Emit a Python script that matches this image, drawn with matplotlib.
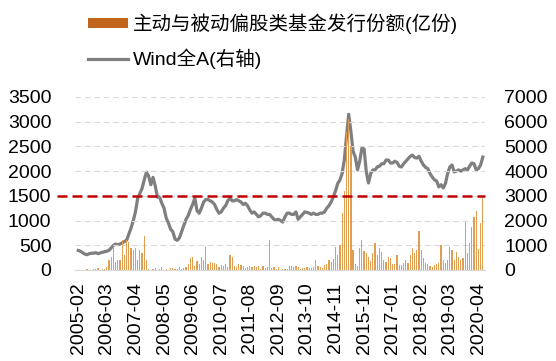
import numpy as np
import pandas as pd
import matplotlib
matplotlib.use('Agg')
import matplotlib.pyplot as plt
from matplotlib.patches import Patch
from matplotlib.lines import Line2D

plt.rcParams['font.family'] = ['Liberation Sans', 'Noto Sans CJK SC', 'DejaVu Sans']

# 月份: 2005-02 ~ 2020-06
months = pd.period_range('2005-02', '2020-06', freq='M').strftime('%Y-%m').tolist()

# 主动与被动偏股类基金发行份额(亿份), 按年份
b2005 = [0, 10, 0, 5, 20, 10, 0, 30, 15, 40, 10]
b2006 = [20, 30, 60, 200, 270, 440, 170, 200, 200, 600, 300, 610]
b2007 = [570, 440, 400, 440, 200, 400, 340, 690, 200, 30, 10, 20]
b2008 = [40, 10, 20, 60, 5, 30, 10, 40, 50, 20, 30, 60]
b2009 = [20, 40, 60, 120, 240, 270, 80, 180, 120, 270, 200, 470]
b2010 = [120, 170, 140, 150, 120, 60, 100, 80, 120, 60, 300, 270]
b2011 = [80, 60, 120, 100, 90, 40, 70, 80, 60, 90, 70, 90]
b2012 = [20, 80, 40, 70, 610, 40, 60, 30, 60, 10, 30, 20]
b2013 = [30, 80, 90, 70, 80, 60, 20, 50, 40, 60, 50, 40]
b2014 = [60, 200, 80, 60, 40, 100, 130, 200, 160, 230, 470, 300]
b2015 = [500, 1150, 1600, 2800, 3050, 2500, 400, 130, 90, 440, 610, 380]
b2016 = [340, 270, 180, 340, 540, 300, 440, 370, 200, 160, 270, 240]
b2017 = [130, 120, 300, 100, 110, 140, 200, 150, 300, 440, 340, 400]
b2018 = [780, 400, 240, 150, 120, 80, 60, 100, 120, 150, 500, 200]
b2019 = [150, 200, 470, 400, 200, 370, 270, 200, 250, 980, 340, 550]
b2020 = [870, 1070, 1200, 420, 950, 1450]

# Wind全A (右轴)
w2005 = [790, 760, 700, 640, 620, 660, 680, 680, 700, 660, 690]
w2006 = [720, 740, 760, 800, 900, 1000, 1050, 1020, 1050, 1100, 1150, 1210]
w2007 = [1450, 1700, 2000, 2350, 2900, 3100, 3300, 3650, 3960, 3800, 3450, 3750]
w2008 = [3400, 2950, 2950, 2700, 2500, 2100, 1900, 1650, 1550, 1250, 1200, 1300]
w2009 = [1550, 1800, 2050, 2200, 2450, 2650, 2910, 2400, 2300, 2500, 2750, 2850]
w2010 = [2850, 2800, 2750, 2650, 2450, 2300, 2350, 2500, 2600, 2800, 2910, 2800]
w2011 = [2800, 2850, 2800, 2750, 2650, 2700, 2600, 2430, 2300, 2350, 2250, 2150]
w2012 = [2200, 2300, 2300, 2250, 2250, 2150, 2050, 2020, 2050, 2000, 1940, 2150]
w2013 = [2300, 2300, 2250, 2250, 2350, 2050, 2150, 2250, 2350, 2330, 2300, 2250]
w2014 = [2300, 2250, 2250, 2300, 2300, 2350, 2500, 2600, 2750, 2960, 3200, 3500]
w2015 = [3640, 3900, 4450, 5400, 6300, 5600, 4800, 4570, 4050, 4400, 4930, 4900]
w2016 = [3970, 3520, 3900, 4050, 4050, 4170, 4200, 4300, 4300, 4450, 4450, 4330]
w2017 = [4330, 4400, 4350, 4200, 4170, 4300, 4400, 4500, 4600, 4650, 4550, 4530]
w2018 = [4600, 4400, 4250, 4150, 4100, 3900, 3760, 3650, 3600, 3360, 3450, 3320]
w2019 = [3500, 3900, 4170, 4250, 3970, 4000, 4050, 4000, 4050, 4100, 4050, 4200]
w2020 = [4330, 4300, 4050, 4100, 4250, 4570]

tick_labels = ['2005-02', '2006-03', '2007-04', '2008-05', '2009-06', '2010-07',
               '2011-08', '2012-09', '2013-10', '2014-11', '2015-12', '2017-01',
               '2018-02', '2019-03', '2020-04']

issue = (b2005 + b2006 + b2007 + b2008 + b2009 + b2010 + b2011 + b2012
         + b2013 + b2014 + b2015 + b2016 + b2017 + b2018 + b2019 + b2020)
wind = (w2005 + w2006 + w2007 + w2008 + w2009 + w2010 + w2011 + w2012
        + w2013 + w2014 + w2015 + w2016 + w2017 + w2018 + w2019 + w2020)

x = np.arange(len(months))
tick_pos = [months.index(t) for t in tick_labels]

fig = plt.figure(figsize=(5.56, 3.61), dpi=100)
ax = fig.add_axes([75 / 556, 1 - 270 / 361, 410 / 556, 173 / 361])
ax2 = ax.twinx()

# 网格线
for v in range(500, 3501, 500):
    ax.axhline(v, color='#D9D9D9', lw=0.8, ls=(0, (5, 3.5)), zorder=0)

ax.bar(x, issue, width=0.55, color='#E09E52', linewidth=0, zorder=2)
ax2.plot(x, wind, color='#7F7F7F', lw=2.3, zorder=3)
ax.axhline(1500, xmin=-0.045, xmax=1.0, color='#C00000', lw=1.8,
           ls=(0, (4, 2)), clip_on=False, zorder=4)

ax.set_ylim(0, 3500)
ax2.set_ylim(0, 7000)
ax.set_xlim(-1.5, 185)
ax.set_yticks(range(0, 3501, 500))
ax2.set_yticks(range(0, 7001, 1000))
ax.set_xticks(tick_pos)
ax.set_xticklabels(tick_labels, rotation=90)

ax.set_zorder(ax2.get_zorder() + 1)
ax.patch.set_visible(False)

for a in (ax, ax2):
    for s in ['top', 'left', 'right']:
        a.spines[s].set_visible(False)
    a.spines['bottom'].set_color('#D9D9D9')
ax.tick_params(axis='both', length=0, labelsize=14)
ax.tick_params(axis='y', pad=17)
ax.tick_params(axis='x', pad=9)
ax2.tick_params(axis='y', length=0, labelsize=14, pad=14)

handles = [Patch(facecolor='#C0651B', edgecolor='none'),
           Line2D([0], [0], color='#7F7F7F', lw=2.3)]
labels = ['主动与被动偏股类基金发行份额(亿份)', 'Wind全A(右轴)']
fig.legend(handles, labels, loc='upper left', bbox_to_anchor=(74 / 556, 1.0),
           frameon=False, fontsize=14, handlelength=2.1, handleheight=0.4,
           handletextpad=0.25, labelspacing=0.75, borderaxespad=0.3)

fig.savefig('out.png', dpi=100)
